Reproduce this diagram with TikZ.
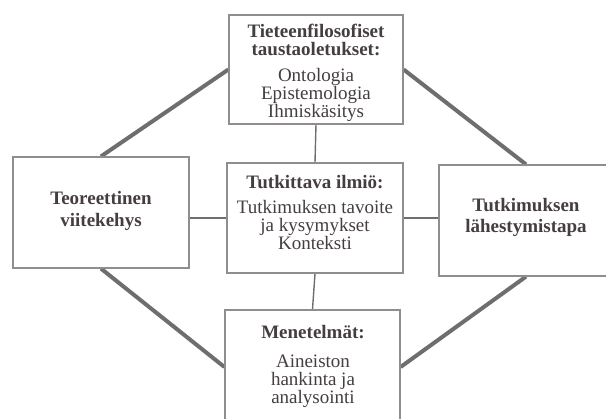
\documentclass[tikz,border=0pt]{standalone}
\usepackage{fontspec}
\setmainfont{Liberation Serif}
\usetikzlibrary{calc,backgrounds}
\definecolor{ink}{HTML}{453E3E}
\definecolor{frame}{HTML}{8E8E8E}
\definecolor{link}{HTML}{6E6E6E}
\begin{document}
\begin{tikzpicture}[x=1pt,y=-1pt,
  box/.style={draw=frame, line width=1.2pt, fill=white, inner sep=0pt},
  txt/.style={text=ink, align=center, inner sep=0pt,
              font=\fontsize{19}{18}\selectfont},
  rim/.style={draw=link, line width=4pt},
  tie/.style={draw=link, line width=1.4pt}]
\useasboundingbox (0,0) rectangle (606,419);
\clip (0,0) rectangle (606,419);

% frames
\node[box, minimum width=174pt, minimum height=109pt] (T) at (316,69.5) {};
\node[box, minimum width=176pt, minimum height=111pt] (L) at (101,212.5) {};
\node[box, minimum width=176pt, minimum height=110pt] (C) at (315,218) {};
\node[box, minimum width=174pt, minimum height=111pt] (R) at (526,220.5) {};
\node[box, minimum width=175pt, minimum height=114pt] (B) at (312.5,367) {};

% texts
\node[txt] (Tt) at (316,73) {\textbf{Tieteenfilosofiset}\\\textbf{taustaoletukset:}\\[8pt]Ontologia\\Epistemologia\\Ihmiskäsitys};
\node[txt] (Lt) at (101,211) {\textbf{Teoreettinen}\\[4pt]\textbf{viitekehys}};
\node[txt] (Ct) at (315,213) {\textbf{Tutkittava ilmiö:}\\[7pt]Tutkimuksen tavoite\\ja kysymykset\\Konteksti};
\node[txt] (Rt) at (526,217.5) {\textbf{Tutkimuksen}\\[3pt]\textbf{lähestymistapa}};
\node[txt] (Bt) at (313,366.5) {\textbf{Menetelmät:}\\[11pt]Aineiston\\hankinta ja\\analysointi};

% connectors behind the frames
\begin{scope}[on background layer]
  \draw[rim] (T.west) -- (L.north);
  \draw[rim] (L.south) -- (B.west);
  \draw[rim] (B.east) -- (R.south);
  \draw[rim] (R.north) -- (T.east);
  \draw[tie] (T.south) -- (C.north);
  \draw[tie] (C.south) -- (B.north);
  \draw[tie] (C.west) -- (C.west -| L.east);
  \draw[tie] (C.east) -- (C.east -| R.west);
\end{scope}
\end{tikzpicture}
\end{document}
